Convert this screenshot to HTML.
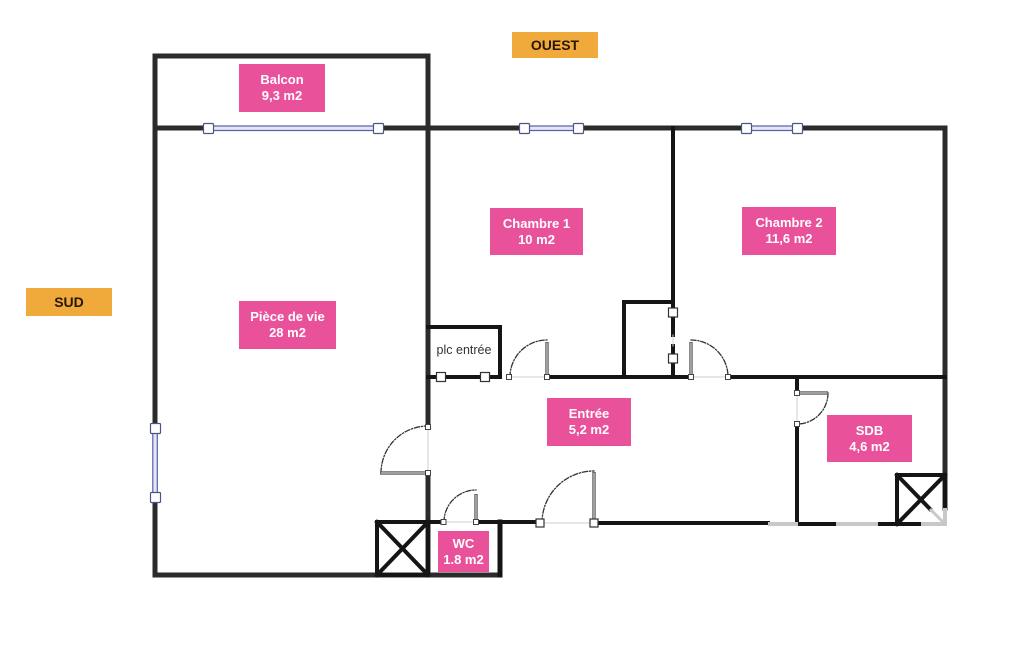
<!DOCTYPE html>
<html><head><meta charset="utf-8"><style>
html,body{margin:0;padding:0;background:#fff;}
body{width:1025px;height:650px;position:relative;overflow:hidden;font-family:"Liberation Sans",Arial,sans-serif;}
.lab{position:absolute;background:#e9529b;color:#fff;font-weight:bold;font-size:13px;line-height:16px;text-align:center;display:flex;flex-direction:column;justify-content:center;}
.dir{position:absolute;background:#f0aa3c;color:#2a1608;font-weight:bold;font-size:14px;text-align:center;display:flex;align-items:center;justify-content:center;}
svg{position:absolute;left:0;top:0;}
</style></head><body>
<svg width="1025" height="650" viewBox="0 0 1025 650">
<g fill="none" stroke-linecap="square">
<!-- outer walls -->
<g stroke="#2b2b2b" stroke-width="5">
<path d="M155,128 V56 H428 V128"/>
<path d="M155,128 H945"/>
<path d="M945,128 V508"/>
<path d="M155,128 V575 H500 V522"/>
<path d="M428,128 V427"/>
<path d="M428,473 V575"/>
</g>
<!-- inner walls -->
<g stroke="#151515" stroke-width="4">
<path d="M428,327 H500 V377"/>
<path d="M428,377 H500"/>
<path d="M547,377 H945" />
<path d="M624,377 V302 H673"/>
<path d="M673,128 V335"/>
<path d="M673,346 V377"/>
<path d="M797,377 V393"/>
<path d="M797,424 V524"/>
<path d="M428,522 H443"/>
<path d="M476,522 H540"/>
<path d="M594,523 H768"/>
<path d="M798,524 H836"/>
<path d="M878,524 H921"/>
<rect x="377" y="522" width="51" height="53"/>
<path d="M377,522 L428,575 M428,522 L377,575"/>
<rect x="897" y="475" width="48" height="49"/>
<path d="M897,524 L945,475"/>
<path d="M897,475 L930,509"/>
<path d="M500,522 V575" stroke-width="5"/>
</g>
<!-- door gap on y=377 between chambres -->
<path d="M691,377 H728" stroke="#fff" stroke-width="6" stroke-linecap="butt"/>
<path d="M691,377 H728" stroke="#ccc" stroke-width="1"/>
<!-- light faded segments -->
<g stroke="#c8c8c8" stroke-width="4" stroke-linecap="butt">
<path d="M768,524 H798 M836,524 H878 M921,524 H947"/>
<path d="M945,508 V524"/>
<path d="M930,509 L945,524" stroke-width="3"/>
</g>
<!-- thin door opening lines -->
<g stroke="#cfcfcf" stroke-width="1">
<path d="M428,427 V473"/>
<path d="M509,377 H547"/>
<path d="M797,393 V424"/>
<path d="M443,522 H476"/>
<path d="M540,523 H594"/>
<path d="M673,335 V346"/>
</g>
<!-- door arcs -->
<g stroke="#333" stroke-width="1.3" stroke-dasharray="5 2 1 2">
<path d="M381,473 A47,47 0 0 1 428,426"/>
<path d="M510,377 A37,37 0 0 1 547,340"/>
<path d="M691,340 A37,37 0 0 1 728,377"/>
<path d="M828,393 A31,31 0 0 1 797,424"/>
<path d="M444,522 A32,32 0 0 1 476,490"/>
<path d="M542,523 A52,52 0 0 1 594,471"/>
</g>
<!-- door leaves -->
<g stroke="#666" stroke-width="3.5" stroke-linecap="butt">
<path d="M380,473 H428"/>
<path d="M547,342 V377"/>
<path d="M691,342 V377"/>
<path d="M797,393 H828"/>
<path d="M476,494 V522"/>
<path d="M594,472 V523"/>
</g>
<g stroke="#d8d8d8" stroke-width="1" stroke-linecap="butt">
<path d="M381,473 H427"/>
<path d="M547,343 V376"/>
<path d="M691,343 V376"/>
<path d="M798,393 H827"/>
<path d="M476,495 V521"/>
<path d="M594,473 V522"/>
</g>
<!-- windows -->
<g stroke="#5a5fa8" stroke-width="1.2" fill="#e4e6f7">
<rect x="208" y="126" width="170" height="4.5"/>
<rect x="524" y="126" width="54" height="4.5"/>
<rect x="746" y="126" width="51" height="4.5"/>
<rect x="152.8" y="428" width="4.5" height="69"/>
</g>
<g stroke="#4e5585" stroke-width="1.2" fill="#fff">
<rect x="203.5" y="123.5" width="10" height="10" rx="1"/>
<rect x="373.5" y="123.5" width="10" height="10" rx="1"/>
<rect x="519.5" y="123.5" width="10" height="10" rx="1"/>
<rect x="573.5" y="123.5" width="10" height="10" rx="1"/>
<rect x="741.5" y="123.5" width="10" height="10" rx="1"/>
<rect x="792.5" y="123.5" width="10" height="10" rx="1"/>
<rect x="150.5" y="423.5" width="10" height="10" rx="1"/>
<rect x="150.5" y="492.5" width="10" height="10" rx="1"/>
</g>
<g stroke="#333" stroke-width="1.2" fill="#fff">
<rect x="436.5" y="372.5" width="9" height="9"/>
<rect x="480.5" y="372.5" width="9" height="9"/>
<rect x="668.5" y="308" width="9" height="9"/>
<rect x="668.5" y="354" width="9" height="9"/>
<rect x="536" y="519" width="8" height="8"/>
<rect x="590" y="519" width="8" height="8"/>
</g>
<g stroke="#444" stroke-width="1" fill="#fff">
<rect x="506.5" y="374.5" width="5" height="5"/>
<rect x="544.5" y="374.5" width="5" height="5"/>
<rect x="688.5" y="374.5" width="5" height="5"/>
<rect x="725.5" y="374.5" width="5" height="5"/>
<rect x="794.5" y="390.5" width="5" height="5"/>
<rect x="794.5" y="421.5" width="5" height="5"/>
<rect x="425.5" y="424.5" width="5" height="5"/>
<rect x="425.5" y="470.5" width="5" height="5"/>
<rect x="441" y="519.5" width="5" height="5"/>
<rect x="473.5" y="519.5" width="5" height="5"/>
</g>
</g>
<text x="464" y="354" font-family="Liberation Sans, Arial, sans-serif" font-size="12.5" fill="#333" text-anchor="middle">plc entrée</text>
</svg>

<div class="dir" style="left:512px;top:32px;width:86px;height:26px;">OUEST</div>
<div class="dir" style="left:26px;top:288px;width:86px;height:28px;">SUD</div>

<div class="lab" style="left:239px;top:64px;width:86px;height:48px;"><div>Balcon</div><div>9,3 m2</div></div>
<div class="lab" style="left:490px;top:208px;width:93px;height:47px;"><div>Chambre 1</div><div>10 m2</div></div>
<div class="lab" style="left:742px;top:207px;width:94px;height:48px;"><div>Chambre 2</div><div>11,6 m2</div></div>
<div class="lab" style="left:239px;top:301px;width:97px;height:48px;"><div>Pièce de vie</div><div>28 m2</div></div>
<div class="lab" style="left:547px;top:398px;width:84px;height:48px;"><div>Entrée</div><div>5,2 m2</div></div>
<div class="lab" style="left:827px;top:415px;width:85px;height:47px;"><div>SDB</div><div>4,6 m2</div></div>
<div class="lab" style="left:438px;top:531px;width:51px;height:41px;"><div>WC</div><div>1.8 m2</div></div>
</body></html>
